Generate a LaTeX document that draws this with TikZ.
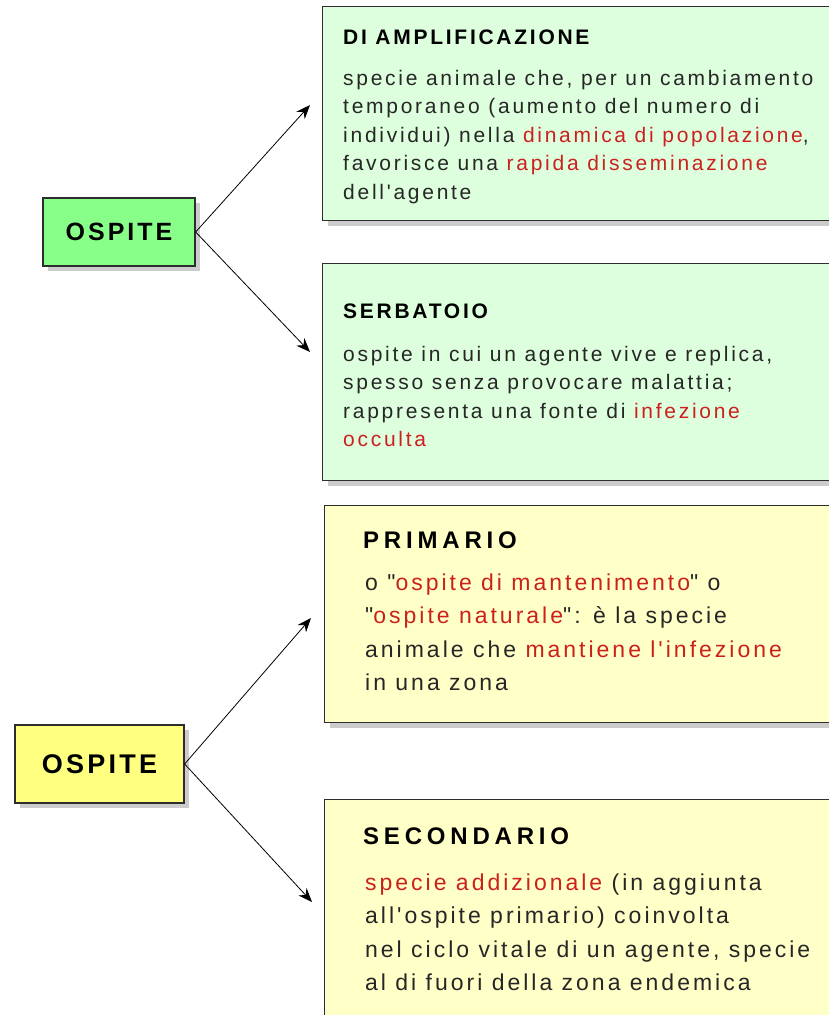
\documentclass[tikz,border=0pt]{standalone}
\usepackage{fontspec}
\setmainfont{Liberation Sans}
\newfontfamily\bodyfont[LetterSpace=13]{Liberation Sans}
\newfontfamily\ybodyfont[LetterSpace=13]{Liberation Sans}
\newfontfamily\titlefont[LetterSpace=13]{Liberation Sans}
\newfontfamily\ytitlefont[LetterSpace=20]{Liberation Sans}
\newfontfamily\hostfont[LetterSpace=12]{Liberation Sans}
\usetikzlibrary{arrows.meta,shadows}

\definecolor{hostgreen}{RGB}{136,255,136}
\definecolor{boxgreen}{RGB}{221,255,221}
\definecolor{hostyellow}{RGB}{255,255,128}
\definecolor{boxyellow}{RGB}{255,255,200}
\definecolor{redtxt}{RGB}{204,32,32}
\definecolor{edgegray}{RGB}{45,45,45}
\newcommand{\hl}[1]{\textcolor{redtxt}{#1}}
\newcommand{\bodylines}[1]{\begin{tabular}[t]{@{}l@{}}#1\end{tabular}}

\begin{document}
\begin{tikzpicture}[x=1pt,y=-1pt,>={Stealth[length=14pt,width=11pt]},
    box/.style={rectangle,draw=edgegray,line width=1.3pt,inner sep=0pt,
                drop shadow={shadow xshift=5pt,shadow yshift=-5pt,fill=black!40}},
    infobox/.style={box,anchor=north west,minimum width=530pt},
    hostlabel/.style={font=\hostfont\bfseries\fontsize{#1}{28}\selectfont},
    greentitle/.style={anchor=base west,inner sep=0pt,font=\titlefont\bfseries\fontsize{21}{24}\selectfont},
    yellowtitle/.style={anchor=base west,inner sep=0pt,font=\ytitlefont\bfseries\fontsize{24}{26}\selectfont},
    greentext/.style={anchor=base west,inner sep=0pt,text=black!85,font=\bodyfont\fontsize{21}{28.5}\selectfont},
    yellowtext/.style={anchor=base west,inner sep=0pt,text=black!85,font=\ybodyfont\fontsize{23}{33.5}\selectfont},
    link/.style={->,line width=0.8pt}]
\useasboundingbox (0,0) rectangle (828,1015);

% green part
\node[box,fill=hostgreen,minimum width=152pt,minimum height=68pt,hostlabel=25] (ospG) at (119,232) {OSPITE};
\node[infobox,fill=boxgreen,minimum height=214pt] (amp) at (322,6) {};
\node[infobox,fill=boxgreen,minimum height=217pt] (serb) at (322,263) {};

\node[greentitle] (ampT) at (343,44) {DI AMPLIFICAZIONE};
\node[greentext] (ampB) at (343,85) {\bodylines{specie animale che, per un cambiamento\\
    temporaneo (aumento del numero di\\
    individui) nella \hl{dinamica di popolazione},\\
    favorisce una \hl{rapida disseminazione}\\
    dell'agente}};
\node[greentitle] (serbT) at (343,318) {SERBATOIO};
\node[greentext] (serbB) at (343,361) {\bodylines{ospite in cui un agente vive e replica,\\
    spesso senza provocare malattia;\\
    rappresenta una fonte di \hl{infezione}\\
    \hl{occulta}}};

% yellow part
\node[box,fill=hostyellow,minimum width=169pt,minimum height=78pt,hostlabel=27] (ospY) at (99.5,764) {OSPITE};
\node[infobox,fill=boxyellow,minimum height=217pt] (prim) at (324,505) {};
\node[infobox,fill=boxyellow,minimum height=240pt] (sec) at (324,799) {};

\node[yellowtitle] (primT) at (363,548) {PRIMARIO};
\node[yellowtext] (primB) at (365,590) {\bodylines{o "\hl{ospite di mantenimento}" o\\
    "\hl{ospite naturale}": è la specie\\
    animale che \hl{mantiene l'infezione}\\
    in una zona}};
\node[yellowtitle] (secT) at (363,844) {SECONDARIO};
\node[yellowtext] (secB) at (365,890) {\bodylines{\hl{specie addizionale} (in aggiunta\\
    all'ospite primario) coinvolta\\
    nel ciclo vitale di un agente, specie\\
    al di fuori della zona endemica}};

% arrow tips
\coordinate (tipA) at (310,105);
\coordinate (tipB) at (310,352);
\coordinate (tipC) at (311,618);
\coordinate (tipD) at (312,902);

\draw[link] (ospG.east) -- (tipA);
\draw[link] (ospG.east) -- (tipB);
\draw[link] (ospY.east) -- (tipC);
\draw[link] (ospY.east) -- (tipD);
\end{tikzpicture}
\end{document}
